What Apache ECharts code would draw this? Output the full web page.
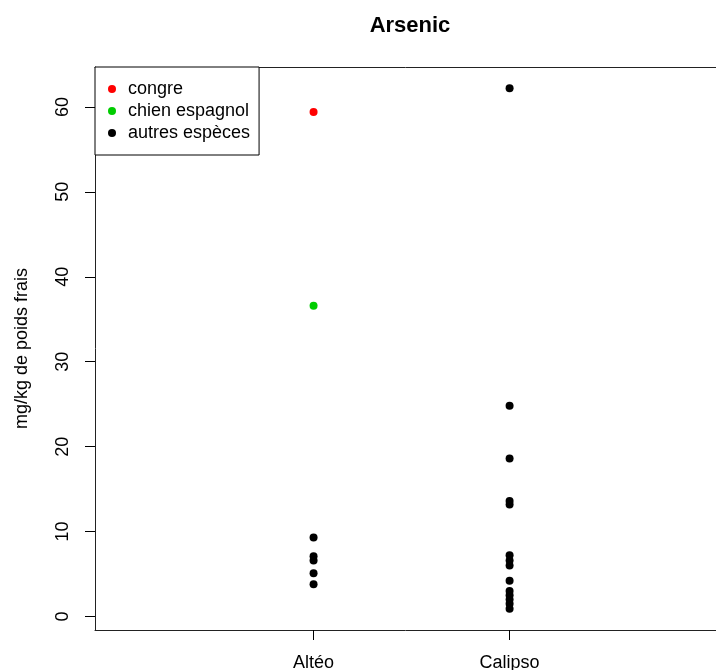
<!DOCTYPE html>
<html>
<head>
<meta charset="utf-8">
<script src="https://cdn.jsdelivr.net/npm/echarts@6/dist/echarts.min.js"></script>
<style>html,body{margin:0;padding:0;background:#fff}#c{width:716px;height:670px}</style>
</head>
<body>
<div id="c"></div>
<script>
var sites = ['Altéo', 'Calipso'];
var yTicks = [0, 10, 20, 30, 40, 50, 60];
var congreAlteo = [59.4];
var chienAlteo = [36.6];
var autresAlteo = [9.3, 7.1, 6.6, 5.1, 3.8];
var autresCalipso = [62.2, 24.8, 18.6, 13.6, 13.2, 7.2, 6.6, 6.0, 4.2, 3.0, 2.5, 2.0, 1.5, 0.9];

function pts(siteIndex, vals) { return vals.map(function (v) { return [siteIndex + 1, v]; }); }

var FONT = "'Liberation Sans', Arial, sans-serif";
var XMIN = -0.115, XMAX = 3.053;
var chart = echarts.init(document.getElementById('c'), null, { renderer: 'canvas' });
chart.setOption({
  animation: false,
  backgroundColor: '#fff',
  title: {
    text: 'Arsenic', left: 405, top: 10, textAlign: 'center',
    textStyle: { fontFamily: FONT, fontSize: 22, fontWeight: 'bold', color: '#000' }
  },
  legend: {
    orient: 'vertical', left: 95, top: 67,
    padding: [13, 9, 13, 13], itemGap: 4, itemWidth: 22, itemHeight: 8,
    borderColor: '#000', borderWidth: 1, backgroundColor: '#fff',
    icon: 'circle',
    textStyle: { fontFamily: FONT, fontSize: 18, color: '#000' },
    data: ['congre', 'chien espagnol', 'autres espèces']
  },
  grid: { left: 95, top: 67, right: 0, height: 563, show: false, outerBoundsMode: 'none', containLabel: false },
  xAxis: [{
    type: 'value', min: XMIN, max: XMAX, position: 'bottom',
    axisLine: { show: true, onZero: false, lineStyle: { color: '#222', width: 1 } },
    splitLine: { show: false },
    axisTick: { show: true, inside: false, length: 10, customValues: [1, 2], lineStyle: { color: '#000' } },
    axisLabel: {
      customValues: [1, 2], margin: 24, color: '#000', fontFamily: FONT, fontSize: 18,
      formatter: function (v) { return sites[Math.round(v) - 1]; }
    }
  }, {
    type: 'value', min: XMIN, max: XMAX, position: 'top',
    axisLine: { show: true, onZero: false, lineStyle: { color: '#222', width: 1 } },
    splitLine: { show: false }, axisTick: { show: false }, axisLabel: { show: false }
  }],
  yAxis: {
    type: 'value', min: -1.59, max: 64.7, position: 'left',
    name: 'mg/kg de poids frais', nameLocation: 'middle', nameGap: 64, nameRotate: 90,
    nameTextStyle: { fontFamily: FONT, fontSize: 18, color: '#000' },
    axisLine: { show: true, onZero: false, lineStyle: { color: '#222', width: 1 } },
    splitLine: { show: false },
    axisTick: { show: true, inside: false, length: 10, customValues: yTicks, lineStyle: { color: '#000' } },
    axisLabel: { customValues: yTicks, rotate: 90, margin: 23, color: '#000', fontFamily: FONT, fontSize: 18 }
  },
  series: [
    { name: 'congre', type: 'scatter', symbol: 'circle', symbolSize: 8, itemStyle: { color: '#FF0000', opacity: 1 }, data: pts(0, congreAlteo) },
    { name: 'chien espagnol', type: 'scatter', symbol: 'circle', symbolSize: 8, itemStyle: { color: '#00CD00', opacity: 1 }, data: pts(0, chienAlteo) },
    { name: 'autres espèces', type: 'scatter', symbol: 'circle', symbolSize: 8, itemStyle: { color: '#000000', opacity: 1 }, data: pts(0, autresAlteo).concat(pts(1, autresCalipso)) }
  ]
});
</script>
</body>
</html>
